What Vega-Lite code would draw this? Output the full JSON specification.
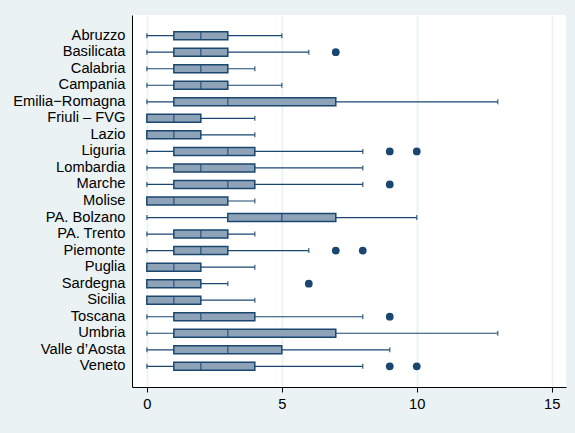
{
  "$schema": "https://vega.github.io/schema/vega-lite/v6.json",
  "width": 434,
  "height": 372,
  "autosize": {"type": "none"},
  "padding": {"left": 132, "top": 15, "right": 9, "bottom": 46},
  "background": "#eaf2f3",
  "config": {
    "view": {"fill": "white", "stroke": null},
    "font": "Liberation Sans",
    "axis": {"labelFont": "Liberation Sans", "labelColor": "#000000", "domainColor": "#000000", "tickColor": "#000000"}
  },
  "datasets": {
    "stats": [
      {"region": "Abruzzo", "lo": 0, "q1": 1, "med": 2, "q3": 3, "hi": 5},
      {"region": "Basilicata", "lo": 0, "q1": 1, "med": 2, "q3": 3, "hi": 6},
      {"region": "Calabria", "lo": 0, "q1": 1, "med": 2, "q3": 3, "hi": 4},
      {"region": "Campania", "lo": 0, "q1": 1, "med": 2, "q3": 3, "hi": 5},
      {"region": "Emilia−Romagna", "lo": 0, "q1": 1, "med": 3, "q3": 7, "hi": 13},
      {"region": "Friuli – FVG", "lo": 0, "q1": 0, "med": 1, "q3": 2, "hi": 4},
      {"region": "Lazio", "lo": 0, "q1": 0, "med": 1, "q3": 2, "hi": 4},
      {"region": "Liguria", "lo": 0, "q1": 1, "med": 3, "q3": 4, "hi": 8},
      {"region": "Lombardia", "lo": 0, "q1": 1, "med": 2, "q3": 4, "hi": 8},
      {"region": "Marche", "lo": 0, "q1": 1, "med": 3, "q3": 4, "hi": 8},
      {"region": "Molise", "lo": 0, "q1": 0, "med": 1, "q3": 3, "hi": 4},
      {"region": "PA. Bolzano", "lo": 0, "q1": 3, "med": 5, "q3": 7, "hi": 10},
      {"region": "PA. Trento", "lo": 0, "q1": 1, "med": 2, "q3": 3, "hi": 4},
      {"region": "Piemonte", "lo": 0, "q1": 1, "med": 2, "q3": 3, "hi": 6},
      {"region": "Puglia", "lo": 0, "q1": 0, "med": 1, "q3": 2, "hi": 4},
      {"region": "Sardegna", "lo": 0, "q1": 0, "med": 1, "q3": 2, "hi": 3},
      {"region": "Sicilia", "lo": 0, "q1": 0, "med": 1, "q3": 2, "hi": 4},
      {"region": "Toscana", "lo": 0, "q1": 1, "med": 2, "q3": 4, "hi": 8},
      {"region": "Umbria", "lo": 0, "q1": 1, "med": 3, "q3": 7, "hi": 13},
      {"region": "Valle d’Aosta", "lo": 0, "q1": 1, "med": 3, "q3": 5, "hi": 9},
      {"region": "Veneto", "lo": 0, "q1": 1, "med": 2, "q3": 4, "hi": 8}
    ],
    "outliers": [
      {"region": "Basilicata", "value": 7},
      {"region": "Liguria", "value": 9},
      {"region": "Liguria", "value": 10},
      {"region": "Marche", "value": 9},
      {"region": "Piemonte", "value": 7},
      {"region": "Piemonte", "value": 8},
      {"region": "Sardegna", "value": 6},
      {"region": "Toscana", "value": 9},
      {"region": "Veneto", "value": 9},
      {"region": "Veneto", "value": 10}
    ]
  },
  "encoding": {
    "y": {
      "field": "region",
      "type": "nominal",
      "sort": "ascending",
      "title": null,
      "scale": {"paddingInner": 0, "paddingOuter": 0.75},
      "axis": {"ticks": false, "labelFontSize": 14.7, "labelPadding": 7, "domainWidth": 1, "labelLimit": 200}
    }
  },
  "layer": [
    {
      "data": {"name": "stats"},
      "mark": {"type": "rule", "color": "#1a476f", "strokeWidth": 1.2},
      "encoding": {
        "x": {
          "field": "lo",
          "type": "quantitative",
          "title": null,
          "scale": {"domain": [-0.55, 15.53], "nice": false, "zero": false},
          "axis": {
            "values": [0, 5, 10, 15],
            "grid": true,
            "gridColor": "#eaf2f3",
            "gridWidth": 1.8,
            "tickSize": 5,
            "labelFontSize": 14.7,
            "labelPadding": 4,
            "domainWidth": 1,
            "labelFlush": false
          }
        },
        "x2": {"field": "hi"}
      }
    },
    {
      "data": {"name": "stats"},
      "mark": {"type": "tick", "color": "#1a476f", "size": 5, "thickness": 1.5},
      "encoding": {"x": {"field": "lo", "type": "quantitative"}}
    },
    {
      "data": {"name": "stats"},
      "mark": {"type": "tick", "color": "#1a476f", "size": 5, "thickness": 1.5},
      "encoding": {"x": {"field": "hi", "type": "quantitative"}}
    },
    {
      "data": {"name": "stats"},
      "mark": {"type": "bar", "fill": "#8ea3b8", "stroke": "#1a476f", "strokeWidth": 1.5, "size": 8},
      "encoding": {
        "x": {"field": "q1", "type": "quantitative"},
        "x2": {"field": "q3"}
      }
    },
    {
      "data": {"name": "stats"},
      "mark": {"type": "tick", "color": "#1a476f", "size": 8, "thickness": 1.5},
      "encoding": {"x": {"field": "med", "type": "quantitative"}}
    },
    {
      "data": {"name": "outliers"},
      "mark": {"type": "circle", "color": "#1a476f", "opacity": 1, "size": 60},
      "encoding": {"x": {"field": "value", "type": "quantitative"}}
    }
  ]
}
